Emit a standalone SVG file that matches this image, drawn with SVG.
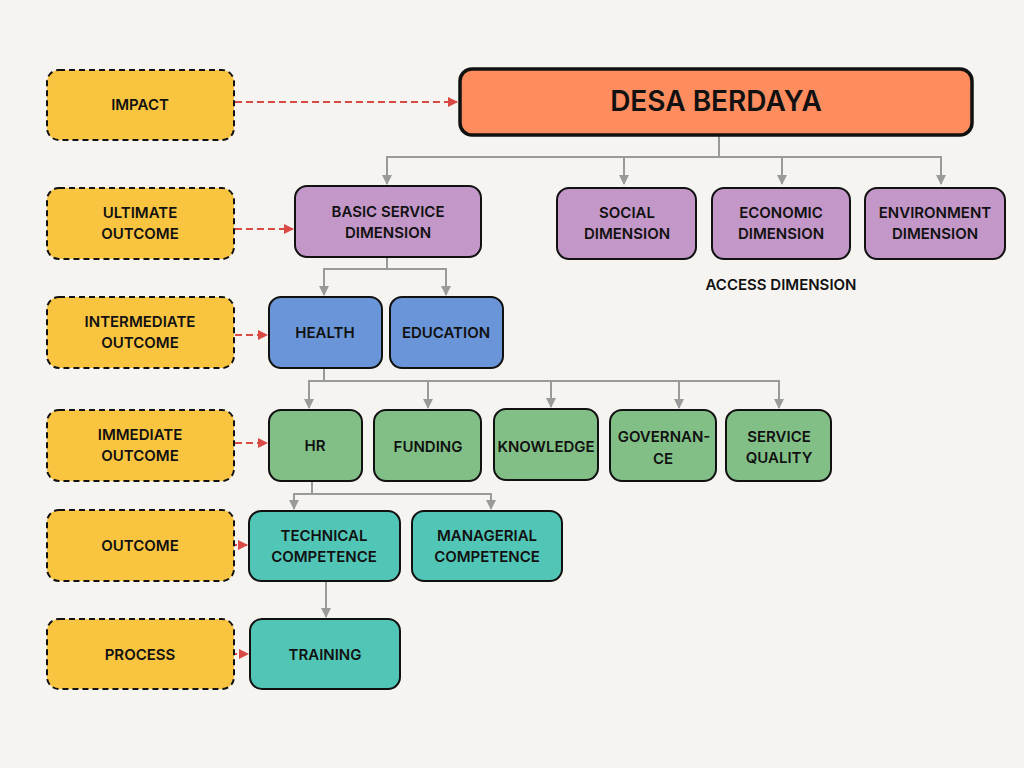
<svg xmlns="http://www.w3.org/2000/svg" width="1024" height="768" viewBox="0 0 1024 768">
<defs>
<style>
.lvl{fill:#f9c440;stroke:#111;stroke-width:2;stroke-dasharray:6 4}
.box{stroke:#111;stroke-width:2}
.pur{fill:#c397c8}.blu{fill:#6a95d8}.grn{fill:#82bf87}.tea{fill:#52c6b6}
text{font-family:Inter,"Liberation Sans",sans-serif;font-weight:600;font-size:15px;fill:#111;text-anchor:middle;dominant-baseline:central}
.con{fill:none;stroke:#9a9a9a;stroke-width:2}
.red{fill:none;stroke:#d94a44;stroke-width:2;stroke-dasharray:7 4}
.dot{fill:none;stroke:#d94a44;stroke-width:2;stroke-dasharray:2 3}
</style>
<marker id="ag" viewBox="0 0 10 10" refX="9" refY="5" markerWidth="5" markerHeight="5" orient="auto"><path d="M0,0L10,5L0,10z" fill="#9a9a9a"/></marker>
<marker id="ar" viewBox="0 0 10 10" refX="9" refY="5" markerWidth="5" markerHeight="5" orient="auto"><path d="M0,0L10,5L0,10z" fill="#d94a44"/></marker>
</defs>
<rect width="1024" height="768" fill="#f5f4f1"/>
<g id="connectors">
<path class="con" marker-end="url(#ag)" d="M719,136V157H387V184"/>
<path class="con" marker-end="url(#ag)" d="M624,157V184"/>
<path class="con" marker-end="url(#ag)" d="M782,157V184"/>
<path class="con" marker-end="url(#ag)" d="M719,157H941V184"/>
<path class="con" marker-end="url(#ag)" d="M387,258V269H324V295"/>
<path class="con" marker-end="url(#ag)" d="M387,269H446V295"/>
<path class="con" marker-end="url(#ag)" d="M324,369V381H309V408"/>
<path class="con" marker-end="url(#ag)" d="M428,381V408"/>
<path class="con" marker-end="url(#ag)" d="M551,381V407"/>
<path class="con" marker-end="url(#ag)" d="M679,381V408"/>
<path class="con" marker-end="url(#ag)" d="M324,381H779V408"/>
<path class="con" marker-end="url(#ag)" d="M312,482V494H294V509"/>
<path class="con" marker-end="url(#ag)" d="M312,494H491V509"/>
<path class="con" marker-end="url(#ag)" d="M326,582V617"/>
<path class="red" marker-end="url(#ar)" d="M235,102H457"/>
<path class="red" marker-end="url(#ar)" d="M235,229H293"/>
<path class="red" marker-end="url(#ar)" d="M235,335H267"/>
<path class="red" marker-end="url(#ar)" d="M235,443H267"/>
<path class="dot" marker-end="url(#ar)" d="M235,545H247"/>
<path class="dot" marker-end="url(#ar)" d="M235,654H248"/>
</g>
<g id="impact"><rect class="lvl" x="47" y="70" width="187" height="70" rx="12"/><text x="140" y="104">IMPACT</text></g>
<g id="ultimate"><rect class="lvl" x="47" y="188" width="187" height="71" rx="12"/><text x="140" y="212">ULTIMATE</text><text x="140" y="233">OUTCOME</text></g>
<g id="intermediate"><rect class="lvl" x="47" y="297" width="187" height="71" rx="12"/><text x="140" y="321">INTERMEDIATE</text><text x="140" y="342">OUTCOME</text></g>
<g id="immediate"><rect class="lvl" x="47" y="410" width="187" height="71" rx="12"/><text x="140" y="434">IMMEDIATE</text><text x="140" y="455">OUTCOME</text></g>
<g id="outcome"><rect class="lvl" x="47" y="510" width="187" height="71" rx="12"/><text x="140" y="545">OUTCOME</text></g>
<g id="process"><rect class="lvl" x="47" y="619" width="187" height="70" rx="12"/><text x="140" y="654">PROCESS</text></g>
<g id="desa"><rect x="460" y="69" width="512" height="66" rx="12" fill="#fd8d5e" stroke="#111" stroke-width="3.5"/><text x="716" y="101" style="font-size:28px">DESA BERDAYA</text></g>
<g id="basic"><rect class="box pur" x="295" y="186" width="186" height="71" rx="12"/><text x="388" y="211">BASIC SERVICE</text><text x="388" y="232">DIMENSION</text></g>
<g id="social"><rect class="box pur" x="557" y="188" width="139" height="71" rx="12"/><text x="627" y="212">SOCIAL</text><text x="627" y="233">DIMENSION</text></g>
<g id="economic"><rect class="box pur" x="712" y="188" width="138" height="71" rx="12"/><text x="781" y="212">ECONOMIC</text><text x="781" y="233">DIMENSION</text></g>
<g id="environment"><rect class="box pur" x="865" y="188" width="140" height="71" rx="12"/><text x="935" y="212">ENVIRONMENT</text><text x="935" y="233">DIMENSION</text></g>
<g id="access"><text x="781" y="284">ACCESS DIMENSION</text></g>
<g id="health"><rect class="box blu" x="269" y="297" width="113" height="71" rx="12"/><text x="325" y="332">HEALTH</text></g>
<g id="education"><rect class="box blu" x="390" y="297" width="113" height="71" rx="12"/><text x="446" y="332">EDUCATION</text></g>
<g id="hr"><rect class="box grn" x="269" y="410" width="93" height="71" rx="12"/><text x="315" y="445">HR</text></g>
<g id="funding"><rect class="box grn" x="374" y="410" width="107" height="71" rx="12"/><text x="428" y="446">FUNDING</text></g>
<g id="knowledge"><rect class="box grn" x="494" y="409" width="104" height="71" rx="12"/><text x="546" y="446">KNOWLEDGE</text></g>
<g id="governance"><rect class="box grn" x="610" y="410" width="106" height="71" rx="12"/><text x="664" y="436">GOVERNAN-</text><text x="663" y="458">CE</text></g>
<g id="service"><rect class="box grn" x="726" y="410" width="105" height="71" rx="12"/><text x="779" y="436">SERVICE</text><text x="779" y="457">QUALITY</text></g>
<g id="technical"><rect class="box tea" x="249" y="511" width="151" height="70" rx="12"/><text x="324" y="535">TECHNICAL</text><text x="324" y="556">COMPETENCE</text></g>
<g id="managerial"><rect class="box tea" x="412" y="511" width="150" height="70" rx="12"/><text x="487" y="535">MANAGERIAL</text><text x="487" y="556">COMPETENCE</text></g>
<g id="training"><rect class="box tea" x="250" y="619" width="150" height="70" rx="12"/><text x="325" y="654">TRAINING</text></g>
</svg>
